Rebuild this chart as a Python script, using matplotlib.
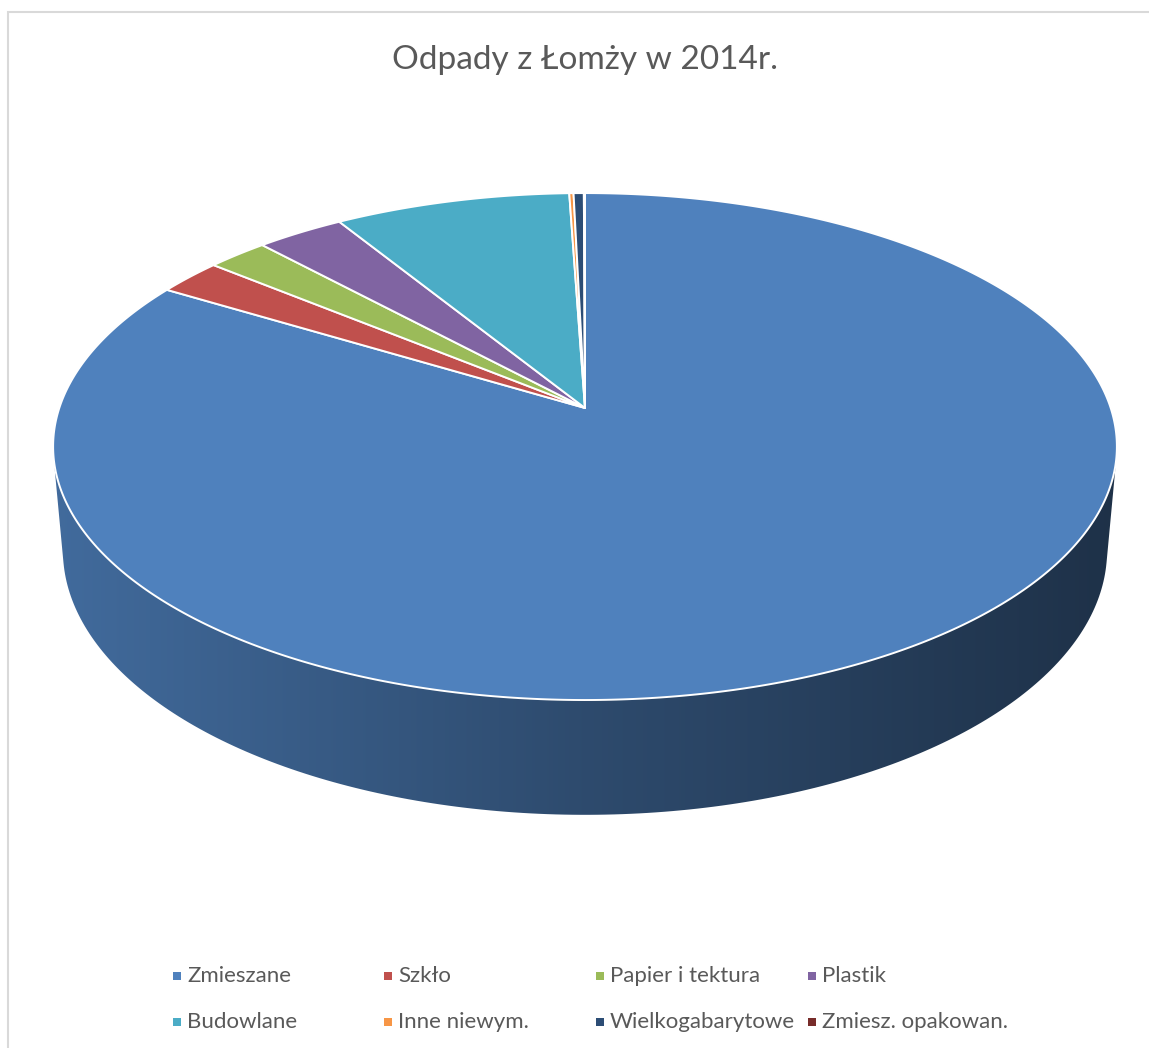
"""Perspective 3D pie of Łomża waste shares, drawn by hand with matplotlib polygons."""

import numpy as np
import matplotlib

matplotlib.use("Agg")
import matplotlib.pyplot as plt  # noqa: E402
from matplotlib.patches import Polygon, Rectangle  # noqa: E402
from matplotlib.colors import to_rgb  # noqa: E402

title = "Odpady z Łomży w 2014r."
labels = [
    "Zmieszane",
    "Szkło",
    "Papier i tektura",
    "Plastik",
    "Budowlane",
    "Inne niewym.",
    "Wielkogabarytowe",
    "Zmiesz. opakowan.",
]
# shares in percent
values = [83.6, 2.3, 2.15, 3.1, 8.3, 0.15, 0.36, 0.04]
colors = ["#4F81BD", "#C0504D", "#9BBB59", "#8064A2", "#4BACC6", "#F79646", "#2C4D75", "#772C2A"]

# view of the disc (radius 1)
elev = np.radians(28.1)
dist = 5.8
thick = 0.226
scale = 525.7  # px per unit
W, H = 1149, 1048
cx, cy = 585, 408  # apex position in px from top-left


def project(x, y, z):
    depth = dist + y * np.cos(elev) - z * np.sin(elev)
    u = dist * x / depth
    v = dist * (y * np.sin(elev) + z * np.cos(elev)) / depth
    return u, v


fig = plt.figure(figsize=(W / 100, H / 100), dpi=100)
ax = fig.add_axes([0, 0, 1, 1])
x0, x1 = -cx / scale, (W - cx) / scale
y0, y1 = -(H - cy) / scale, cy / scale
ax.set_xlim(x0, x1)
ax.set_ylim(y0, y1)
ax.axis("off")

# chart frame (only left and top edges are in the crop)
fig.patches.append(Rectangle((8, -20), W + 40, H + 20 - 12, transform=None,
                             fill=False, edgecolor="#D9D9D9", linewidth=1.5))

fracs = np.array(values) / np.sum(values)
bounds = 90 - 360 * np.concatenate([[0], np.cumsum(fracs)])
k_vis = 1 / (dist * np.cos(elev))
vis_lo = 180 + np.degrees(np.arcsin(k_vis))
vis_hi = 360 - np.degrees(np.arcsin(k_vis))

# horizontal shading of the outer wall
gx = np.linspace(x0, x1, 600)
shade = np.interp(gx, [-1.02, 0, 1.02], [0.83, 0.58, 0.38])

for i, color in enumerate(colors):
    # slice runs clockwise from bounds[i] down to bounds[i+1]; test both wraps
    hi, lo = bounds[i], bounds[i + 1]
    for off in (0, 360, -360):
        a = max(lo + off, vis_lo)
        b = min(hi + off, vis_hi)
        if b <= a:
            continue
        th = np.radians(np.linspace(a, b, 200))
        ut, vt = project(np.cos(th), np.sin(th), 0)
        ub, vb = project(np.cos(th[::-1]), np.sin(th[::-1]), -thick)
        side = Polygon(np.column_stack([np.r_[ut, ub], np.r_[vt, vb]]),
                       closed=True, facecolor="none", edgecolor="none")
        ax.add_patch(side)
        img = np.clip(np.array(to_rgb(color))[None, None, :] * shade[None, :, None], 0, 1)
        im = ax.imshow(img, extent=(x0, x1, y0, y1), aspect="auto",
                       interpolation="bilinear", zorder=1)
        im.set_clip_path(side)

# top faces
for i, color in enumerate(colors):
    t0, t1 = bounds[i], bounds[i + 1]
    n = max(int(abs(t0 - t1) * 2), 2)
    th = np.radians(np.linspace(t0, t1, n))
    u, v = project(np.cos(th), np.sin(th), 0)
    pts = np.column_stack([np.r_[0, u], np.r_[0, v]])
    ax.add_patch(Polygon(pts, closed=True, facecolor=color, edgecolor="white",
                         linewidth=1.4, joinstyle="round", zorder=2))

font = "Lato"
fig.text(cx / W, 1 - 60 / H, title, ha="center", va="center", fontsize=24,
         color="#595959", family=font)

# legend: 4 equal columns, 2 rows
col_x = [177, 388, 600, 812]
row_y = [976, 1022]
for i, (lab, color) in enumerate(zip(labels, colors)):
    x = col_x[i % 4]
    y = row_y[i // 4]
    fig.patches.append(Rectangle((x - 4, H - y - 4), 8, 8, transform=None,
                                 facecolor=color, edgecolor="none"))
    fig.text((x + 10) / W, 1 - y / H, lab, ha="left", va="center", fontsize=16,
             color="#595959", family=font)

fig.savefig("out.png", dpi=100)
